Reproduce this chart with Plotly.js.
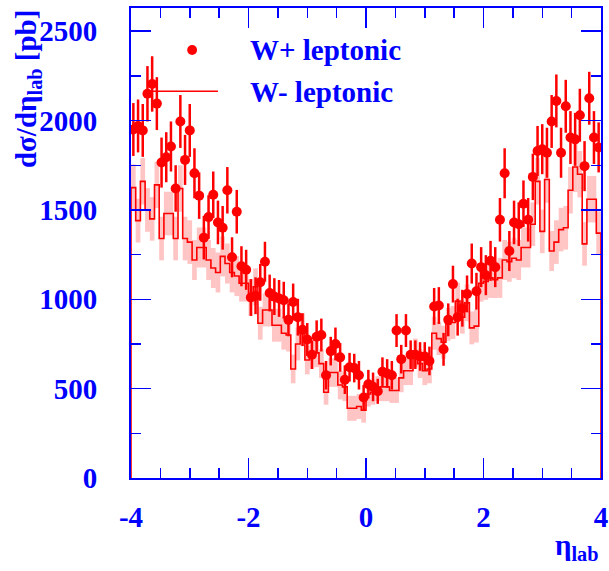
<!DOCTYPE html>
<html>
<head>
<meta charset="utf-8">
<script src="https://cdn.plot.ly/plotly-3.0.1.min.js"></script>
<style>html,body{margin:0;padding:0;background:#fff}#chart{width:609px;height:571px}</style>
</head>
<body>
<div id="chart"></div>
<script>
// bin centres in eta_lab (bin width 0.08)
var etaBins = [-3.96,-3.88,-3.80,-3.72,-3.64,-3.56,-3.48,-3.40,-3.32,-3.24,
-3.16,-3.08,-3.00,-2.92,-2.84,-2.76,-2.68,-2.60,-2.52,-2.44,
-2.36,-2.28,-2.20,-2.12,-2.04,-1.96,-1.88,-1.80,-1.72,-1.64,
-1.56,-1.48,-1.40,-1.32,-1.24,-1.16,-1.08,-1.00,-0.92,-0.84,
-0.76,-0.68,-0.60,-0.52,-0.44,-0.36,-0.28,-0.20,-0.12,-0.04,
0.04,0.12,0.20,0.28,0.36,0.44,0.52,0.60,0.68,0.76,
0.84,0.92,1.00,1.08,1.16,1.24,1.32,1.40,1.48,1.56,
1.64,1.72,1.80,1.88,1.96,2.04,2.12,2.20,2.28,2.36,
2.44,2.52,2.60,2.68,2.76,2.84,2.92,3.00,3.08,3.16,
3.24,3.32,3.40,3.48,3.56,3.64,3.72,3.80,3.88,3.96];
var binWidth = 0.08;

// W+ leptonic (points)
var wPlus = [1950,1970,1945,2150,2205,2095,1765,1795,1855,1620,
1995,1780,1945,1705,1580,1345,1460,1585,1430,1400,
1610,1235,1490,1185,1165,1010,1020,1095,1210,1035,
1015,1005,995,885,985,900,830,775,690,790,
800,575,710,750,675,550,620,615,575,450,
525,510,485,595,585,575,825,665,825,690,
690,680,680,655,960,965,720,885,1085,900,
950,1030,1200,1045,1180,1135,1215,1180,1445,1705,
1270,1430,1420,1535,1445,1685,1830,1840,1820,1995,
2110,1820,2080,1905,1895,2030,1745,2125,1905,1850];
var wPlusErr = [148,148,148,155,155,148,140,140,140,130,
148,140,148,140,130,122,122,130,122,122,
130,112,122,112,112,103,103,103,112,103,
103,103,103,92,103,103,92,92,80,92,
92,80,80,92,80,80,80,80,80,70,
80,80,70,80,80,80,92,80,92,80,
80,80,80,80,103,103,92,92,103,103,
103,103,112,103,112,112,112,112,122,140,
112,122,122,130,122,130,140,140,140,148,
148,140,148,148,148,148,140,148,148,140];

// W- leptonic (histogram with error band)
var wMinus = [1625,1440,1660,1500,1450,1640,1340,1480,1480,1340,
1620,1340,1320,1220,1290,1290,1220,1175,1150,1240,
1200,1150,1130,1090,1090,1010,1070,866,940,940,
855,855,810,800,610,750,830,660,690,700,
640,480,590,590,520,510,390,390,400,380,
470,480,500,510,510,490,490,560,600,600,
700,640,600,610,810,780,760,860,870,990,
900,980,840,850,1090,1100,1120,1110,1120,1220,
1210,1230,1220,1290,1290,1420,1660,1380,1670,1270,
1320,1390,1400,1610,1740,1700,1310,1560,1560,1370];
var wMinusErr = [130,122,130,122,122,130,122,122,122,122,
130,122,122,112,112,112,112,112,112,112,
112,112,112,103,103,103,103,92,92,92,
92,92,92,92,80,92,92,80,80,80,
80,70,80,80,80,80,70,70,70,70,
70,70,70,80,80,70,70,80,80,80,
80,80,80,80,92,92,92,92,92,103,
92,103,92,92,103,103,112,103,112,112,
112,112,112,112,112,122,130,122,130,112,
122,122,122,130,140,130,122,130,130,122];

var xTickVals = [-4,-2,0,2,4];
var xTickText = ['-4','-2','0','2','4'];
var yTickVals = [0,500,1000,1500,2000,2500];
var yTickText = ['0','500','1000','1500','2000','2500'];

// build histogram step outline from bin edges
var edges = etaBins.map(function(c){return c - binWidth/2;});
edges.push(etaBins[etaBins.length-1] + binWidth/2);
var stepX = [edges[0]], stepY = [0];
for (var i = 0; i < wMinus.length; i++) { stepX.push(edges[i]); stepY.push(wMinus[i]); }
stepX.push(edges[edges.length-1]); stepY.push(wMinus[wMinus.length-1]);
stepX.push(edges[edges.length-1]); stepY.push(0);

var bandBase = wMinus.map(function(v,i){return v - wMinusErr[i];});
var bandH = wMinusErr.map(function(e){return 2*e;});

var BLUE = '#0000ff';
var tickFont = {family:'Liberation Serif, Times New Roman, serif', size:29, color:BLUE, weight:'bold'};

var traces = [
  {type:'bar', x:etaBins, y:bandH, base:bandBase, width:binWidth,
   marker:{color:'rgba(255,60,60,0.30)', line:{width:0}}, showlegend:false, hoverinfo:'skip'},
  {type:'scatter', mode:'lines', x:stepX, y:stepY, line:{color:'#ff0000', width:1.6, shape:'hv'},
   showlegend:false, name:'W- leptonic'},
  {type:'scatter', mode:'markers', x:etaBins, y:wPlus, name:'W+ leptonic',
   marker:{color:'#ff0000', size:10},
   error_y:{type:'data', array:wPlusErr, visible:true, color:'#ff0000', thickness:2.5, width:0},
   showlegend:false}
];

var layout = {
  width:609, height:571,
  margin:{l:131, r:8, t:8, b:93},
  paper_bgcolor:'#fff', plot_bgcolor:'#fff',
  showlegend:false,
  barmode:'overlay',
  xaxis:{range:[-4,4], tickvals:xTickVals, ticktext:xTickText, ticks:'inside', ticklen:20, tickwidth:1.5,
         tickcolor:BLUE, showline:true, linecolor:BLUE, linewidth:2, mirror:'allticks', showgrid:false, zeroline:false,
         tickfont:tickFont, ticklabelstandoff:12,
         minor:{dtick:0.5, ticks:'inside', ticklen:10, tickwidth:1.5, tickcolor:BLUE, showgrid:false}},
  yaxis:{range:[0,2630], tickvals:yTickVals, ticktext:yTickText, ticks:'inside', ticklen:20, tickwidth:1.5,
         tickcolor:BLUE, showline:true, linecolor:BLUE, linewidth:2, mirror:'allticks', showgrid:false, zeroline:false,
         tickfont:tickFont, ticklabelstandoff:26,
         minor:{dtick:250, ticks:'inside', ticklen:10, tickwidth:1.5, tickcolor:BLUE, showgrid:false}},
  shapes:[
    {type:'line', xref:'paper', yref:'paper', x0:0.036, x1:0.185, y0:0.823, y1:0.823, line:{color:'#ff0000', width:1.6}},
    {type:'circle', xref:'paper', yref:'paper', x0:0.1196, x1:0.1406, y0:0.9001, y1:0.9211, fillcolor:'#ff0000', line:{color:'#ff0000', width:0}}
  ],
  annotations:[
    {xref:'paper', yref:'paper', x:0.249, y:0.911, xanchor:'left', yanchor:'middle', showarrow:false,
     text:'W+ leptonic', font:{family:'Liberation Serif, serif', size:29, color:BLUE, weight:'bold'}},
    {xref:'paper', yref:'paper', x:0.249, y:0.821, xanchor:'left', yanchor:'middle', showarrow:false,
     text:'W- leptonic', font:{family:'Liberation Serif, serif', size:29, color:BLUE, weight:'bold'}},
    {xref:'paper', yref:'paper', x:-0.219, y:1.0, xanchor:'center', yanchor:'top', showarrow:false, textangle:-90,
     text:'dσ/dη<sub>lab</sub> [pb]', font:{family:'Liberation Serif, serif', size:29, color:BLUE, weight:'bold'}},
    {xref:'paper', yref:'paper', x:1.0, y:-0.19, xanchor:'right', yanchor:'bottom', showarrow:false,
     text:'η<sub>lab</sub>', font:{family:'Liberation Serif, serif', size:29, color:BLUE, weight:'bold'}}
  ]
};

Plotly.newPlot('chart', traces, layout, {staticPlot:true, displayModeBar:false});
</script>
</body>
</html>
